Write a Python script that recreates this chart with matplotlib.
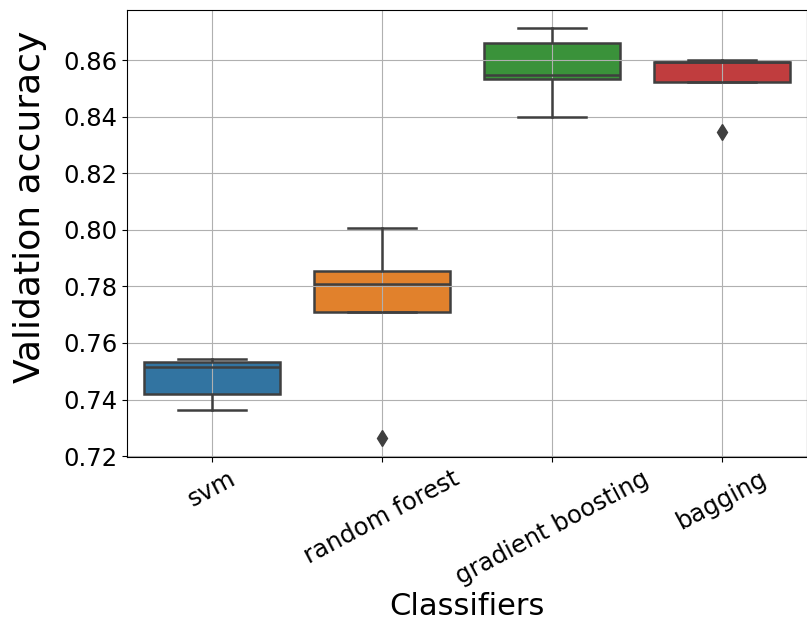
import matplotlib
matplotlib.use("Agg")
import matplotlib.pyplot as plt

# validation accuracy per fold
classifiers = ["svm", "random forest", "gradient boosting", "bagging"]
svm_scores = [0.7363, 0.7419, 0.7516, 0.7532, 0.7542]
rf_scores = [0.7264, 0.7709, 0.7810, 0.7855, 0.8005]
gb_scores = [0.8399, 0.8533, 0.8547, 0.8659, 0.8715]
bagging_scores = [0.8347, 0.8523, 0.8594, 0.8594, 0.8600]
box_colors = ["#3274a1", "#e1812c", "#3a923a", "#c03d3e"]

edge = "#3f3f3f"

fig = plt.figure(figsize=(8.07, 6.28), dpi=100)
ax = fig.add_axes([127 / 807, 1 - 457 / 628, 680 / 807, 447 / 628])

data = [svm_scores, rf_scores, gb_scores, bagging_scores]
bp = ax.boxplot(data, positions=range(len(data)), widths=0.8, patch_artist=True,
                boxprops=dict(edgecolor=edge, linewidth=1.8),
                whiskerprops=dict(color=edge, linewidth=1.8),
                capprops=dict(color=edge, linewidth=1.8),
                medianprops=dict(color=edge, linewidth=1.8),
                flierprops=dict(marker="d", markerfacecolor=edge, markeredgecolor=edge,
                                markersize=8.5))
for patch, c in zip(bp["boxes"], box_colors):
    patch.set_facecolor(c)
    patch.set_zorder(1)  # grid shows through the boxes, like the original

ax.set_xlim(-0.5, 3.5)
ax.set_ylim(0.7197, 0.8777)
ax.set_yticks([0.72, 0.74, 0.76, 0.78, 0.80, 0.82, 0.84, 0.86])
ax.set_xticks(range(len(classifiers)))
ax.set_xticklabels(classifiers, rotation=28, ha="center", fontsize=17.5)
ax.tick_params(axis="y", labelsize=17.5)
ax.grid(True)

ax.set_xlabel("Classifiers", fontsize=22, labelpad=2)
ax.set_ylabel("Validation accuracy", fontsize=26)
ax.yaxis.set_label_coords(-0.118, 0.56)

fig.savefig("out.png", dpi=100)
